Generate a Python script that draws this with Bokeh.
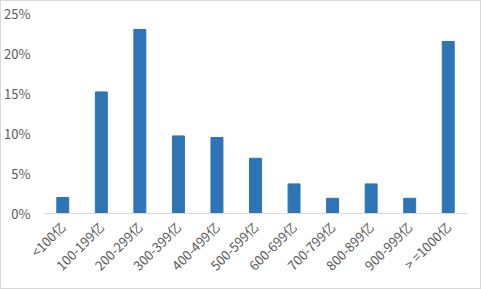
import math
from bokeh.plotting import figure
from bokeh.models import FactorRange, Range1d, FixedTicker, NumeralTickFormatter, ColumnDataSource
from bokeh.embed import file_html
from bokeh.resources import INLINE

categories = ["<100亿", "100-199亿", "200-299亿", "300-399亿", "400-499亿", "500-599亿",
              "600-699亿", "700-799亿", "800-899亿", "900-999亿", "> =1000亿"]
shares = [0.020, 0.152, 0.230, 0.097, 0.095, 0.069, 0.037, 0.019, 0.037, 0.019, 0.215]
y_ticks = [0, 0.05, 0.10, 0.15, 0.20, 0.25]

src = ColumnDataSource(dict(cat=categories, val=shares))

p = figure(width=481, height=289, x_range=FactorRange(*categories, range_padding=0),
           y_range=Range1d(0, 0.25), output_backend="svg", toolbar_location=None,
           min_border_left=42, min_border_right=15, min_border_top=12, min_border_bottom=77)
p.x_range.range_padding = 0
p.vbar(x="cat", top="val", width=0.31, color="#2e75b6", source=src)

p.xgrid.visible = False
p.ygrid.visible = False
p.outline_line_color = None
p.styles = {"border": "1px solid #d9d9d9", "box-sizing": "border-box"}

font = "Noto Sans CJK SC"
p.yaxis.ticker = FixedTicker(ticks=y_ticks)
p.yaxis.formatter = NumeralTickFormatter(format="0%")
p.yaxis.axis_line_color = None
p.yaxis.major_tick_line_color = None
p.yaxis.minor_tick_line_color = None
p.yaxis.major_label_text_font = font
p.yaxis.major_label_text_font_size = "13px"
p.yaxis.major_label_text_color = "#595959"
p.yaxis.major_label_standoff = 7

p.xaxis.axis_line_color = "#d9d9d9"
p.xaxis.major_tick_line_color = None
p.xaxis.minor_tick_line_color = None
p.xaxis.major_label_orientation = math.pi / 4
p.xaxis.major_label_text_font = font
p.xaxis.major_label_text_font_size = "13px"
p.xaxis.major_label_text_color = "#595959"
p.xaxis.major_label_standoff = 5

open("out.html", "w").write(file_html(p, INLINE))
